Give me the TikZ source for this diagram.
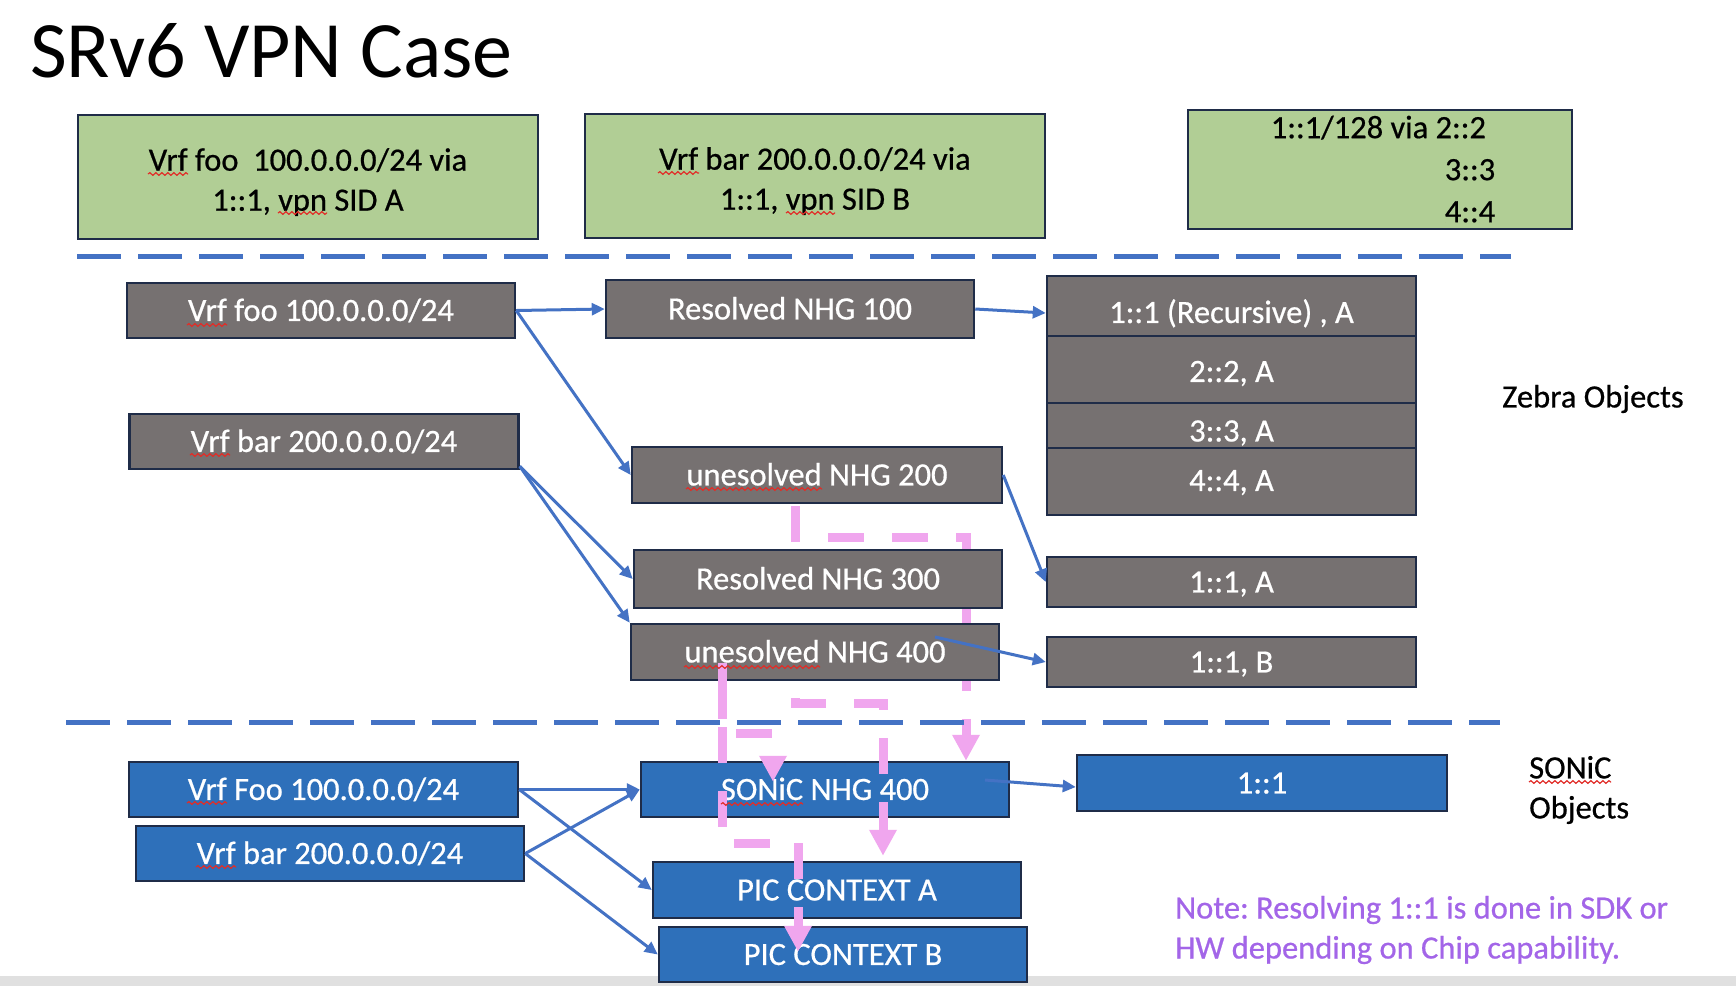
\documentclass[tikz,border=0pt]{standalone}
\usepackage{fontspec}
\setmainfont{Carlito}[FakeBold=0.6]
\newfontfamily\titlefont{Carlito}
\frenchspacing
\usetikzlibrary{arrows.meta,decorations.pathmorphing}
\definecolor{gfill}{RGB}{177,206,149}
\definecolor{grayfill}{RGB}{118,113,113}
\definecolor{bluefill}{RGB}{46,112,186}
\definecolor{edgec}{RGB}{31,44,72}
\definecolor{lblue}{RGB}{68,114,196}
\definecolor{pinkc}{RGB}{240,166,238}
\definecolor{notec}{RGB}{163,101,232}
\definecolor{squigc}{RGB}{225,45,40}
\definecolor{bandc}{RGB}{224,224,224}
\begin{document}
\begin{tikzpicture}[x=1pt,y=-1pt,
  box/.style={draw=edgec, line width=2.5pt, inner sep=0pt, font=\fontsize{32.5}{40}\selectfont},
  greenbox/.style={box, fill=gfill},
  graybox/.style={box, fill=grayfill, text=white, text height=20.9pt, text depth=0pt},
  bluebox/.style={box, fill=bluefill, text=white, text height=20.9pt, text depth=0pt},
  txt/.style={inner sep=0pt, font=\fontsize{32.5}{40}\selectfont},
  conn/.style={draw=lblue, line width=3pt, -{Triangle[length=13pt,width=12pt]}},
  pinkarrow/.style={draw=pinkc, line width=9pt, dash pattern=on 36pt off 28pt, -{Triangle[length=26pt,width=26pt]}},
  sep/.style={draw=lblue, line width=5pt, dash pattern=on 44pt off 17pt},
  squiggle/.style={draw=squigc, line width=1.2pt, decorate, decoration={snake, amplitude=1.3pt, segment length=6pt}}
]
\useasboundingbox (0,0) rectangle (1736,986);
\fill[white] (0,0) rectangle (1736,986);
\fill[bandc] (0,976) rectangle (1736,986);

% title
\node[inner sep=0pt, anchor=base west, font=\titlefont\fontsize{80}{90}\selectfont] (title) at (30,77) {SRv6 VPN Case};

% green route boxes
\node[greenbox, minimum width=460pt, minimum height=124pt] (g1) at (308,177) {};
\node[txt, align=center] (g1t) at (308,182) {Vrf foo\ \ 100.0.0.0/24 via\\1::1, vpn SID A};
\node[greenbox, minimum width=460pt, minimum height=124pt] (g2) at (815,176) {};
\node[txt, align=center] (g2t) at (815,181) {Vrf bar 200.0.0.0/24 via\\1::1, vpn SID B};
\node[greenbox, minimum width=384pt, minimum height=119pt] (g3) at (1380,169.5) {};
\node[txt, align=left, font=\fontsize{32.5}{42}\selectfont] (g3t) at (1383,169) {1::1/128 via 2::2\\\hspace*{174pt}3::3\\\hspace*{174pt}4::4};

% SONiC objects (blue)
\node[bluebox, minimum width=389pt, minimum height=55pt] (sfoo) at (323.5,789.5) {Vrf Foo 100.0.0.0/24};
\node[bluebox, minimum width=388pt, minimum height=55pt] (sbar) at (330,853.5) {Vrf bar 200.0.0.0/24};
\node[bluebox, minimum width=368pt, minimum height=55pt] (snhg) at (825,789.5) {SONiC NHG 400};
\node[bluebox, minimum width=368pt, minimum height=56pt] (picA) at (837,890) {PIC CONTEXT A};
\node[bluebox, minimum width=368pt, minimum height=55pt] (picB) at (843,954.5) {PIC CONTEXT B};
\node[bluebox, minimum width=370pt, minimum height=56pt] (s11) at (1262,783) {1::1};

% pink arrows passing behind the zebra boxes
\coordinate (pA) at (795,503);
\draw[pinkarrow, dash phase=61pt] (pA) -- (795,537) -| ([xshift=141pt]snhg.north);
\draw[pinkarrow, dash phase=61pt] (pA) -- (795,703) -| ([xshift=46pt,yshift=5pt]picA.north);

% zebra objects (gray)
\node[graybox, minimum width=388pt, minimum height=55pt] (vfoo) at (321,310.5) {Vrf foo 100.0.0.0/24};
\node[graybox, minimum width=389pt, minimum height=55pt] (vbar) at (324,441.5) {Vrf bar 200.0.0.0/24};
\node[graybox, minimum width=368pt, minimum height=58pt] (n100) at (790,309) {Resolved NHG 100};
\node[graybox, minimum width=370pt, minimum height=56pt] (n200) at (817,475) {unesolved NHG 200};
\node[graybox, minimum width=368pt, minimum height=58pt] (n300) at (818,579) {Resolved NHG 300};
\node[graybox, minimum width=368pt, minimum height=56pt] (n400) at (815,652) {unesolved NHG 400};
\node[graybox, minimum width=369pt, minimum height=60pt, text height=33.9pt] (r1) at (1231.5,306) {1::1 (Recursive) , A};
\node[graybox, minimum width=369pt, minimum height=67pt, text height=24.9pt] (r2) at (1231.5,369.5) {2::2, A};
\node[graybox, minimum width=369pt, minimum height=45pt, text height=31.9pt] (r3) at (1231.5,425.5) {3::3, A};
\node[graybox, minimum width=369pt, minimum height=67pt, text height=18.9pt] (r4) at (1231.5,481.5) {4::4, A};
\node[graybox, minimum width=369pt, minimum height=50pt] (a11) at (1231.5,582) {1::1, A};
\node[graybox, minimum width=369pt, minimum height=50pt] (b11) at (1231.5,662) {1::1, B};

% zebra connectors
\coordinate (c4) at ([xshift=120pt,yshift=15pt]n400.center);
\draw[conn] (vfoo.east) -- (n100.west);
\draw[conn] (vfoo.east) -- (n200.west);
\draw[conn] ([yshift=4pt]vbar.south east) -- (n300.west);
\draw[conn] ([yshift=4pt]vbar.south east) -- (n400.north west);
\draw[conn] (n100.east) -- ([yshift=-7pt]r1.west);
\draw[conn] (n200.east) -- (a11.west);
\draw[conn] (c4) -- (b11.west);

% pink arrows from NHG 400
\coordinate (pC) at (722,663);
\draw[pinkarrow, dash phase=44pt] (pC) -- (722,733) -| ([xshift=-52pt,yshift=-21pt]snhg.north);
\draw[pinkarrow, dash phase=0pt] (pC) -- (722,843) -| ([xshift=-45pt,yshift=-26pt]picB.north);

% SONiC connectors
\coordinate (csn) at ([xshift=160pt,yshift=9.5pt]snhg.center);
\draw[conn] (sfoo.east) -- (snhg.west);
\draw[conn] (sfoo.east) -- (picA.west);
\draw[conn] (sbar.east) -- (snhg.west);
\draw[conn] (sbar.east) -- (picB.west);
\draw[conn] (csn) -- ([yshift=-4pt]s11.west);

% separators
\coordinate (s1a) at (77,256);
\coordinate (s1b) at (1511,256);
\coordinate (s2a) at (66,722);
\coordinate (s2b) at (1500,722);
\draw[sep] (s1a) -- (s1b);
\draw[sep] (s2a) -- (s2b);

% labels
\node[txt, anchor=west, text height=20.9pt, text depth=0pt] (zebra) at (1502,397) {Zebra Objects};
\node[txt, anchor=west, align=left] (sonic) at (1529,790) {SONiC\\Objects};
\node[txt, anchor=west, align=left, text=notec] (note) at (1175,930) {Note: Resolving 1::1 is done in SDK or\\HW depending on Chip capability.};

% spell-check marks
\draw[squiggle] (148,174) -- (188,174);
\draw[squiggle] (278,213) -- (327,213);
\draw[squiggle] (658,173) -- (699,173);
\draw[squiggle] (786,213) -- (835,213);
\draw[squiggle] (187,325) -- (227,325);
\draw[squiggle] (190,455) -- (230,455);
\draw[squiggle] (686,489) -- (822,489);
\draw[squiggle] (684,667) -- (820,667);
\draw[squiggle] (187,803) -- (227,803);
\draw[squiggle] (196,867) -- (236,867);
\draw[squiggle] (721,804) -- (803,804);
\draw[squiggle] (1529,782) -- (1611,782);
\end{tikzpicture}
\end{document}
